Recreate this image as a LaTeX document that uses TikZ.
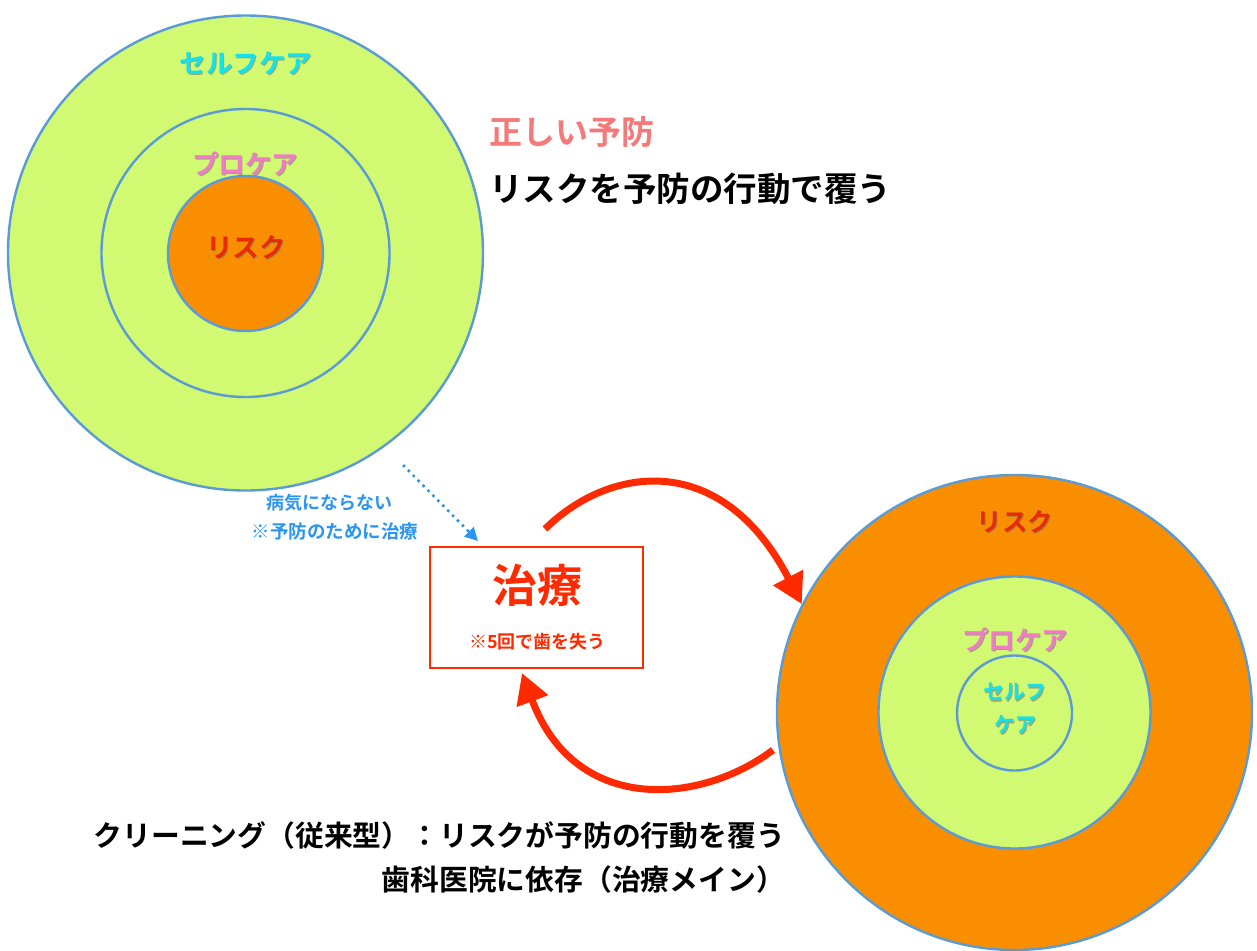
\documentclass[tikz,border=0pt]{standalone}
\usepackage{fontspec}
\newfontfamily\jp{Noto Sans CJK JP}[BoldFont={Noto Sans CJK JP Bold}]
\usetikzlibrary{arrows.meta}
\definecolor{lgreen}{HTML}{D1F971}
\definecolor{orng}{HTML}{F98E00}
\definecolor{ringblue}{HTML}{5B9BD5}
\definecolor{cyanlbl}{HTML}{12E2EE}
\definecolor{pinklbl}{HTML}{F07CC8}
\definecolor{risklbl}{HTML}{E82A00}
\definecolor{salmon}{HTML}{F47A7A}
\definecolor{skyblue}{HTML}{2B95F0}
\definecolor{redline}{HTML}{FF2A00}
\definecolor{shade}{HTML}{6A6A6A}
\begin{document}
\begin{tikzpicture}[x=1pt,y=-1pt,
  ring/.style={circle, draw=ringblue, line width=2.4pt, inner sep=0pt, minimum size=#1},
  lbl/.style={font=\jp\bfseries\fontsize{#1}{#1}\selectfont, inner sep=0pt},
  glow/.style={text=shade, opacity=0.55},
  redarrow/.style={draw=redline, line width=7pt, -{Triangle[length=30pt,width=32pt]}},
  dotarrow/.style={draw=skyblue, line width=2.6pt, dash pattern=on 2.6pt off 4.4pt, -{Triangle[length=13pt,width=13pt]}}
]
\useasboundingbox (0,0) rectangle (1257,950);
\clip (0,0) rectangle (1257,950);
\fill[white] (0,0) rectangle (1257,950);

% ---- top-left target
\node[ring=475pt, fill=lgreen] (A1) at (245.5,253) {};
\node[ring=288pt, fill=lgreen] (A2) at (245.5,253) {};
\node[ring=155pt, fill=orng] (A3) at (245.5,253.5) {};
\node[lbl=26.5, glow] (a1s) at (247.2,64.7) {セルフケア};
\node[lbl=26.5, text=cyanlbl] (a1) at (246,63.5) {セルフケア};
\node[lbl=26.5, glow] (a2s) at (246.2,164.7) {プロケア};
\node[lbl=26.5, text=pinklbl] (a2) at (245,163.5) {プロケア};
\node[lbl=26.5, glow] (a3s) at (247.2,248.7) {リスク};
\node[lbl=26.5, text=risklbl] (a3) at (246,247.5) {リスク};

% ---- headline on the right
\node[lbl=33, text=salmon, anchor=west] (t1) at (489,132) {正しい予防};
\node[lbl=33.5, text=black, anchor=west] (t2) at (489,189) {リスクを予防の行動で覆う};

% ---- bottom-right target
\node[ring=475pt, fill=orng] (B1) at (1014.5,712.5) {};
\node[ring=272pt, fill=lgreen] (B2) at (1014.5,712.5) {};
\node[ring=115pt, fill=lgreen] (B3) at (1014.5,713) {};
\node[lbl=25.5, glow] (b1s) at (1016.2,523.2) {リスク};
\node[lbl=25.5, text=risklbl] (b1) at (1015,522) {リスク};
\node[lbl=26.5, glow] (b2s) at (1016.2,641.2) {プロケア};
\node[lbl=26.5, text=pinklbl] (b2) at (1015,640) {プロケア};
\node[lbl=21, glow] (b3s) at (1015.8,693.2) {セルフ};
\node[lbl=21, text=cyanlbl] (b3) at (1014.6,692) {セルフ};
\node[lbl=21, glow] (b4s) at (1016.2,726.2) {ケア};
\node[lbl=21, text=cyanlbl] (b4) at (1015,725) {ケア};

% ---- treatment box
\node[draw=redline, line width=2.2pt, fill=white, minimum width=213pt, minimum height=121pt, inner sep=0pt] (box) at (536.5,607.5) {};
\node[lbl=45, text=redline] (tx1) at (537.5,585) {治療};
\node[lbl=18, text=redline] (tx2) at (537.5,642) {※5回で歯を失う};

% ---- blue note and dotted arrow
\node[lbl=18, text=skyblue] (n1) at (329,503) {病気にならない};
\node[lbl=18.5, text=skyblue] (n2) at (335,531) {※予防のために治療};
\coordinate (d0) at (403,465);
\coordinate (d1) at (478,541);
\draw[dotarrow] (d0) -- (d1);

% ---- red cycle arrows
\coordinate (r0) at (545,529);
\draw[redarrow] (r0) .. controls (610,465) and (722,450) .. (B1.153.6);
\coordinate (s0) at (773,750);
\coordinate (s1) at (522,673);
\draw[redarrow] (s0) .. controls (700,805) and (575,815) .. (s1);

% ---- bottom caption
\node[lbl=28.8, text=black, anchor=east] (c1) at (785,835) {クリーニング（従来型）：リスクが予防の行動を覆う};
\node[lbl=28.8, text=black, anchor=east] (c2) at (785,880) {歯科医院に依存（治療メイン）};
\end{tikzpicture}
\end{document}
